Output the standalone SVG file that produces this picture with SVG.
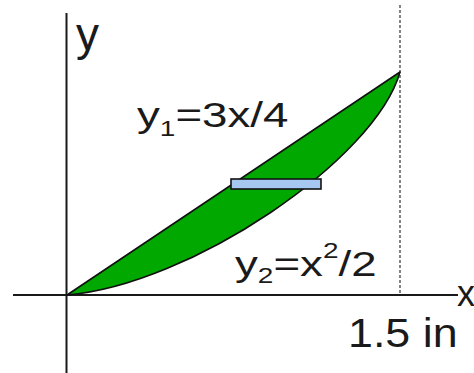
<svg xmlns="http://www.w3.org/2000/svg" width="474" height="373" viewBox="0 0 474 373">
<style>
.axis{stroke:#1a1a1a;stroke-width:2;fill:none}
.guide{stroke:#333;stroke-width:1.2;stroke-dasharray:3 2;fill:none}
.lbl{font-family:"Liberation Sans",Arial,sans-serif;fill:#1a1a1a}
</style>
<rect width="474" height="373" fill="#fff"/>
<g id="connectors">
<line class="axis" x1="66.5" y1="13" x2="66.5" y2="373"/>
<line class="axis" x1="13" y1="295" x2="458" y2="295"/>
<line class="guide" x1="400" y1="5" x2="400" y2="295"/>
</g>
<g id="region">
<path d="M67,295 L400,72 C375,160 190,285 67,295 Z" fill="#00a800" stroke="#111" stroke-width="1.6" stroke-linejoin="round"/>
</g>
<g id="strip">
<rect x="231" y="179" width="90" height="10" fill="#a6c8f0" stroke="#111" stroke-width="1.6"/>
</g>
<g id="label-y">
<text class="lbl" font-size="46" x="76" y="50">y</text>
</g>
<g id="label-x">
<text class="lbl" font-size="36" x="457" y="306">x</text>
</g>
<g id="label-y1">
<text class="lbl" font-size="36" transform="translate(137,127) scale(1.27,1)">y<tspan font-size="22" dy="9">1</tspan><tspan dy="-9">=3x/4</tspan></text>
</g>
<g id="label-y2">
<text class="lbl" font-size="36" transform="translate(235,276) scale(1.27,1)">y<tspan font-size="22" dy="7">2</tspan><tspan dy="-7">=x</tspan><tspan font-size="22" dy="-18">2</tspan><tspan dy="18">/2</tspan></text>
</g>
<g id="label-tick">
<text class="lbl" font-size="40" transform="translate(348,347) scale(1.12,1)">1.5 in</text>
</g>
</svg>
